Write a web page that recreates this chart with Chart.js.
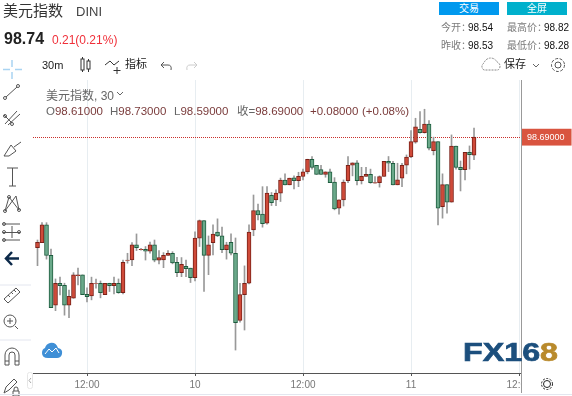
<!DOCTYPE html>
<html>
<head>
<meta charset="utf-8">
<title>DINI</title>
<script src="https://cdn.jsdelivr.net/npm/chart.js@4"></script>
<style>
html, body { margin: 0; padding: 0; background: #fff; }
body { width: 572px; height: 396px; overflow: hidden; position: relative; font-family: "Liberation Sans", "Noto Sans CJK SC", sans-serif; }
#myChart { position: absolute; left: 0; top: 0; }
.t { position: absolute; white-space: nowrap; line-height: 1; }
.btn { position: absolute; top: 2px; width: 60px; height: 13px; color: #fff; font-size: 10px; line-height: 13px; text-align: center; }
.lab { color: #7a7a7a; font-size: 10px; }
.num { color: #111; font-size: 10px; }
.leg { color: #7a3b3b; font-size: 11.5px; top: 106px; }
#icons { position: absolute; left: 0; top: 0; }
#logo { position: absolute; left: 463px; top: 339px; font-weight: bold; font-size: 26px; line-height: 1; color: #1c4f7d; -webkit-text-stroke: 0.7px #1c4f7d; transform-origin: 0 0; transform: scaleX(1.24); white-space: nowrap; filter: blur(0.4px); }
#logo span { color: #b98a2c; -webkit-text-stroke: 0.7px #b98a2c; }
</style>
</head>
<body>
<canvas id="myChart" width="572" height="396"></canvas>

<div class="t" style="left:3px;top:3px;font-size:15px;color:#333">美元指数</div>
<div class="t" style="left:76px;top:5px;font-size:13px;color:#444">DINI</div>
<div class="t" style="left:4px;top:31px;font-size:16px;font-weight:bold;color:#222">98.74</div>
<div class="t" style="left:52px;top:34px;font-size:12px;color:#f0303a">0.21(0.21%)</div>
<div class="btn" style="left:439px;background:#0099ee">交易</div>
<div class="btn" style="left:507px;background:#00b0cc">全屏</div>
<div class="t lab" style="left:441px;top:23px">今开：</div><div class="t num" style="left:468px;top:23px">98.54</div>
<div class="t lab" style="left:507px;top:23px">最高价：</div><div class="t num" style="left:544px;top:23px">98.82</div>
<div class="t lab" style="left:441px;top:41px">昨收：</div><div class="t num" style="left:468px;top:41px">98.53</div>
<div class="t lab" style="left:507px;top:41px">最低价：</div><div class="t num" style="left:544px;top:41px">98.28</div>
<div class="t" style="left:42px;top:60px;font-size:11px;color:#222">30m</div>
<div class="t" style="left:125px;top:59px;font-size:11px;color:#222">指标</div>
<div class="t" style="left:504px;top:59px;font-size:11px;color:#222">保存</div>

<div class="t" style="left:46px;top:90px;font-size:12px;color:#666">美元指数, 30</div>
<div class="t leg" style="left:46px"><span style="color:#666">O</span>98.61000</div>
<div class="t leg" style="left:110px"><span style="color:#666">H</span>98.73000</div>
<div class="t leg" style="left:174px"><span style="color:#666">L</span>98.59000</div>
<div class="t leg" style="left:237px"><span style="color:#666">收=</span>98.69000</div>
<div class="t leg" style="left:310px">+0.08000</div>
<div class="t leg" style="left:362px">(+0.08%)</div>

<svg id="icons" width="572" height="396" fill="none" stroke="#555" stroke-width="1">
  <path d="M12 60v7M12 72v7M3 69.500h7M15 69.500h7" stroke="#a9d4f2" stroke-width="1.500"/>
  <path d="M6 97L17 87"/><circle cx="5" cy="98" r="1.500"/><circle cx="18" cy="86" r="1.500"/>
  <path d="M5 124L17 111M8 125L20 114M4 115L12 123"/><circle cx="5" cy="116" r="1.500"/><circle cx="12" cy="124" r="1.500"/>
  <path d="M4 156L11 145L16 151L9 156ZM14 147L21 142"/>
  <path d="M7 168H18M12.500 168V186M9 186H16"/>
  <path d="M5 211L9 197L19 210L16 196L5 211"/><circle cx="5" cy="211" r="1.500"/><circle cx="9" cy="197" r="1.500"/><circle cx="19" cy="210" r="1.500"/>
  <path d="M3 224H20M3 232.500H20M3 240H20M12 226V238"/><circle cx="4" cy="224" r="1.500"/><circle cx="4" cy="232" r="1.500"/><circle cx="19" cy="232" r="1.500"/><circle cx="4" cy="240" r="1.500"/>
  <path d="M6 258.500H19M12 252L6 258.500L12 265" stroke="#0d2a4a" stroke-width="2.500"/>
  <path d="M0 285H31M0 340H31" stroke="#e3e6ef"/>
  <path d="M4 299L16 288L20 292L8 303ZM8 295l2 2M11 292l2 2M14 290l2 2"/>
  <circle cx="10" cy="321" r="6"/><path d="M7 321h6M10 318v6M15 326l3 3"/>
  <path d="M5 365V355a7 7 0 0 1 14 0V365H15V355a3 3 0 0 0-6 0V365ZM5 361H9M15 361H19"/>
  <path d="M4 393L6 387L14 379L17 382L9 390ZM13 391h6v5h-6ZM14 391v-2a2 2 0 0 1 4 0v2"/>
  <rect x="27.500" y="372.500" width="5" height="16" rx="2" stroke="#e6e6e6"/><path d="M31 378L29 380.500L31 383" stroke="#aaa"/>
  <rect x="81" y="59" width="3" height="11" stroke="#333"/><path d="M82.500 57v2M82.500 70v2" stroke="#333"/><rect x="87" y="61" width="3" height="8" stroke="#333"/><path d="M88.500 59v2M88.500 69v3" stroke="#333"/>
  <path d="M105 65L110 61L114 65L119 61" stroke="#333"/><path d="M117 67v7M113.500 70.500h7" stroke="#333"/>
  <path d="M161 65H168Q172 65 171 70M164 62L161 65L164 68" stroke="#555"/>
  <path d="M197 65H190Q186 65 187 70M194 62L197 65L194 68" stroke="#ccc"/>
  <path d="M484 70a4 4 0 0 1 0-7a7 7 0 0 1 13-1a4.500 4.500 0 0 1 1 8Z" stroke="#888" stroke-dasharray="2 1"/>
  <path d="M533 64l3 3l3-3" stroke="#666"/>
  <path d="M117 92l3 3l3-3" stroke="#666"/>
  <circle cx="558" cy="65" r="3"/><circle cx="558" cy="65" r="6.500" stroke-dasharray="3 1.500"/>
  <circle cx="547" cy="384" r="3.500" stroke="#222"/><circle cx="547" cy="384" r="5.500" stroke="#222" stroke-dasharray="2 1.500"/>
  <path d="M521.500 80V393" stroke="#999"/>
  <path d="M0 394.500H572" stroke="#e3e6ef"/>
  <path d="M50 343q6-1 8 5q5 1 4 6q-1 4-5 4H48q-6 0-6-5q0-4 3-5q1-4 5-5Z" fill="#3f8fd6" stroke="none"/>
  <path d="M45 354l4-5l3 3l4-4l3 5" stroke="#fff"/>
</svg>
<div id="logo">FX16<span>8</span></div>

<script>
// 30m candles, oldest first
var opens = [
  98.199, 98.221, 98.300, 98.165, 97.943, 98.041, 98.032, 97.943, 97.974, 98.075,
  98.078, 97.992, 97.984, 98.040, 98.041, 97.990, 98.041, 98.030, 98.041, 97.999,
  98.142, 98.144, 98.211, 98.190, 98.192, 98.183, 98.211, 98.143, 98.144, 98.164,
  98.174, 98.134, 98.088, 98.116, 98.108, 98.066, 98.241, 98.319, 98.165, 98.221,
  98.268, 98.252, 98.190, 98.223, 98.174, 97.876, 97.990, 98.041, 98.278, 98.364,
  98.348, 98.308, 98.432, 98.411, 98.441, 98.499, 98.478, 98.509, 98.497, 98.515,
  98.536, 98.592, 98.565, 98.546, 98.524, 98.536, 98.490, 98.374, 98.411, 98.497,
  98.565, 98.576, 98.497, 98.515, 98.525, 98.486, 98.488, 98.515, 98.583, 98.574,
  98.478, 98.508, 98.565, 98.602, 98.668, 98.725, 98.710, 98.748, 98.630, 98.670,
  98.381, 98.479, 98.401, 98.650, 98.556, 98.546, 98.623, 98.610
];
var highs = [
  98.233, 98.310, 98.310, 98.193, 98.060, 98.068, 98.041, 98.010, 98.088, 98.108,
  98.078, 98.021, 98.068, 98.059, 98.051, 98.041, 98.041, 98.068, 98.060, 98.144,
  98.174, 98.221, 98.260, 98.196, 98.204, 98.224, 98.233, 98.186, 98.177, 98.186,
  98.181, 98.156, 98.155, 98.144, 98.108, 98.269, 98.322, 98.319, 98.251, 98.300,
  98.327, 98.290, 98.223, 98.260, 98.242, 98.041, 98.118, 98.300, 98.433, 98.393,
  98.470, 98.470, 98.444, 98.456, 98.508, 98.527, 98.508, 98.518, 98.534, 98.548,
  98.592, 98.604, 98.565, 98.565, 98.536, 98.548, 98.510, 98.411, 98.500, 98.604,
  98.576, 98.586, 98.556, 98.556, 98.548, 98.515, 98.518, 98.583, 98.604, 98.583,
  98.574, 98.574, 98.611, 98.719, 98.774, 98.804, 98.814, 98.764, 98.690, 98.670,
  98.527, 98.479, 98.700, 98.650, 98.584, 98.623, 98.651, 98.730
];
var lows = [
  98.119, 98.221, 98.148, 97.932, 97.919, 97.989, 97.899, 97.888, 97.974, 98.033,
  97.990, 97.958, 97.967, 98.019, 97.976, 97.990, 98.004, 97.993, 97.996, 97.993,
  98.130, 98.119, 98.186, 98.188, 98.144, 98.174, 98.136, 98.127, 98.110, 98.164,
  98.127, 98.070, 98.070, 98.070, 98.044, 98.051, 98.204, 98.004, 98.079, 98.167,
  98.248, 98.177, 98.148, 98.167, 97.744, 97.868, 97.833, 98.038, 98.252, 98.322,
  98.290, 98.303, 98.386, 98.386, 98.404, 98.478, 98.478, 98.460, 98.470, 98.500,
  98.527, 98.548, 98.524, 98.524, 98.512, 98.488, 98.367, 98.348, 98.384, 98.488,
  98.518, 98.478, 98.482, 98.515, 98.485, 98.486, 98.468, 98.515, 98.537, 98.478,
  98.478, 98.470, 98.527, 98.599, 98.663, 98.708, 98.708, 98.633, 98.611, 98.300,
  98.330, 98.352, 98.401, 98.548, 98.451, 98.500, 98.548, 98.590
];
var closes = [
  98.223, 98.300, 98.164, 97.932, 98.041, 98.030, 97.943, 97.983, 98.078, 98.078,
  97.990, 97.981, 98.041, 98.041, 97.999, 98.041, 98.030, 98.041, 97.999, 98.134,
  98.144, 98.211, 98.199, 98.192, 98.183, 98.211, 98.143, 98.155, 98.165, 98.174,
  98.131, 98.088, 98.125, 98.106, 98.066, 98.241, 98.319, 98.165, 98.211, 98.259,
  98.251, 98.190, 98.211, 98.174, 97.866, 97.990, 98.041, 98.268, 98.364, 98.344,
  98.306, 98.441, 98.399, 98.441, 98.499, 98.478, 98.508, 98.497, 98.516, 98.536,
  98.592, 98.555, 98.524, 98.524, 98.536, 98.488, 98.371, 98.411, 98.490, 98.565,
  98.576, 98.497, 98.516, 98.525, 98.488, 98.488, 98.515, 98.583, 98.574, 98.478,
  98.500, 98.565, 98.602, 98.670, 98.736, 98.710, 98.748, 98.641, 98.670, 98.374,
  98.479, 98.401, 98.650, 98.555, 98.546, 98.623, 98.612, 98.690
];

var firstSlot = 1;              // the series starts one bar in from the left edge
var lastPrice = 98.69;
var tickSlots = [12, 36, 60, 84, 108];
var tickLabels = ["12:00", "10", "12:00", "11", "12:00"];

var bodies = [], wicks = [], bodyFill = [], bodyLine = [];
for (var i = 0; i < opens.length; i++) {
  var up = closes[i] >= opens[i];
  bodies.push({x: firstSlot + i, y: [opens[i], closes[i]]});
  wicks.push({x: firstSlot + i, y: [lows[i], highs[i]]});
  bodyFill.push(up ? "#cf4a39" : "#6aa98a");
  bodyLine.push(up ? "#7a2118" : "#1d5c3e");
}

// the 12:00 label is cut off where the price panel starts
var clipLastLabel = {
  id: "clipLastLabel",
  afterDraw: function (chart) {
    chart.ctx.clearRect(522, 374, 50, 22);
  }
};

var ctx = document.getElementById("myChart").getContext("2d");
var myChart = new Chart(ctx, {
  type: "bar",
  data: {
    datasets: [{
      label: "body",
      data: bodies,
      backgroundColor: bodyFill,
      borderColor: bodyLine,
      borderWidth: 1,
      borderSkipped: false,
      barThickness: 4,
      grouped: false
    }, {
      label: "wick",
      data: wicks,
      backgroundColor: "#999999",
      borderWidth: 0,
      barThickness: 1,
      grouped: false
    }]
  },
  plugins: [clipLastLabel],
  options: {
    responsive: false,
    animation: false,
    layout: {padding: {left: 33, top: 80, right: 0, bottom: 0}},
    plugins: {legend: {display: false}, tooltip: {enabled: false}},
    scales: {
      x: {
        type: "linear",
        offset: false,
        min: 0,
        max: 108.44,
        afterBuildTicks: function (scale) {
          scale.ticks = tickSlots.map(function (v) { return {value: v}; });
        },
        afterFit: function (scale) { scale.height = 23; },
        grid: {color: "#e7edf1", tickColor: "#555", tickLength: 3, offset: false},
        border: {color: "#555"},
        ticks: {
          autoSkip: false,
          maxRotation: 0,
          padding: 3,
          color: "#777",
          font: {size: 10, family: "Liberation Sans"},
          callback: function (v) { return tickLabels[tickSlots.indexOf(v)]; }
        }
      },
      y: {
        position: "right",
        min: 97.642,
        max: 98.944,
        afterBuildTicks: function (scale) {
          scale.ticks = [{value: lastPrice}];
        },
        afterFit: function (scale) { scale.width = 51; },
        grid: {color: "#c9302c", drawTicks: false},
        border: {display: false, dash: [1, 1]},
        ticks: {
          padding: 6,
          color: "#fff",
          font: {size: 9, family: "Liberation Sans"},
          showLabelBackdrop: true,
          backdropColor: "#d9543f",
          backdropPadding: {left: 6, right: 7, top: 3, bottom: 3},
          callback: function (v) { return v.toFixed(5); }
        }
      }
    }
  }
});
</script>
</body>
</html>
